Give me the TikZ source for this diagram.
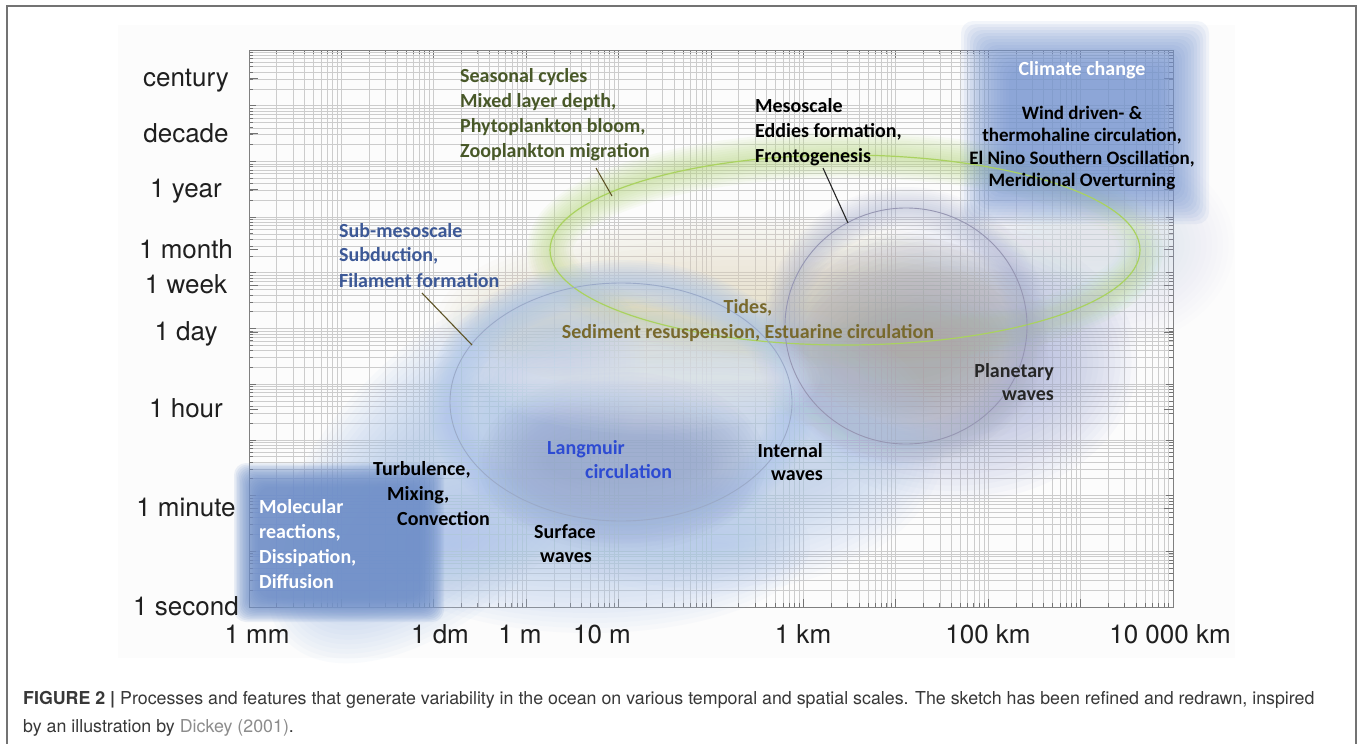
\documentclass[tikz,border=0pt]{standalone}
\usepackage{fontspec}
\setmainfont{TeX Gyre Heros}
\newfontfamily\labfont{Carlito}
\definecolor{molblue}{RGB}{112,144,202}
\definecolor{climblue}{RGB}{118,150,210}
\definecolor{lblue}{RGB}{176,199,234}
\definecolor{langm}{RGB}{148,164,202}
\definecolor{tanc}{RGB}{226,217,190}
\definecolor{mesotan}{RGB}{172,166,152}
\definecolor{planet}{RGB}{166,175,216}
\definecolor{greenglow}{RGB}{188,220,135}
\definecolor{greenline}{RGB}{170,210,95}
\definecolor{subline}{RGB}{155,170,200}
\definecolor{mesoline}{RGB}{150,150,178}
\definecolor{mesoglow}{RGB}{168,176,206}
\definecolor{seastext}{RGB}{72,88,40}
\definecolor{subtext}{RGB}{60,88,150}
\definecolor{tidetext}{RGB}{120,105,45}
\definecolor{langtext}{RGB}{45,75,210}
\definecolor{leadercol}{RGB}{95,85,40}
\tikzset{
  gridline/.style={draw=black!20, line width=0.7pt},
  tickline/.style={draw=black!55, line width=0.8pt},
  frameline/.style={draw=black!50, line width=1pt},
  axlab/.style={font=\fontsize{26}{30}\selectfont, text=black!88, inner sep=0pt, anchor=base},
  lab/.style={font=\labfont\bfseries\fontsize{20}{24}\selectfont, inner sep=0pt},
  clab/.style={font=\labfont\bfseries\fontsize{19}{23}\selectfont, inner sep=0pt, anchor=base},
  leaderline/.style={line width=1.1pt},
  outline/.style={line width=0.9pt},
  captext/.style={font=\fontsize{17.8}{21}\selectfont, text=black!78, inner sep=0pt, anchor=base west},
}
% soft (blurred) ellipse: cx, cy, rx, ry, colour, total opacity, blur
\newcommand\softell[7]{%
  \pgfmathsetmacro\lyr{1-(1-#6)^(1/17)}%
  \foreach \k in {-8,...,8}{%
    \fill[#5,opacity=\lyr] (#1,#2) ellipse [x radius={#3+(\k)*#7/8}, y radius={#4+(\k)*#7/8}];}}
% soft ring: cx, cy, rx, ry, colour, total opacity, width
\newcommand\softring[7]{%
  \pgfmathsetmacro\lyr{1-(1-#6)^(1/10)}%
  \foreach \w in {1,...,10}{%
    \draw[#5,opacity=\lyr,line width={\w*#7/10}] (#1,#2) ellipse [x radius=#3, y radius=#4];}}
% soft rectangle: x1, y1, x2, y2, colour, total opacity, blur
\newcommand\softrect[7]{%
  \pgfmathsetmacro\lyr{1-(1-#6)^(1/17)}%
  \foreach \k in {-8,...,8}{%
    \fill[#5,opacity=\lyr,rounded corners=12pt] ({#1-(\k)*#7/8},{#2-(\k)*#7/8}) rectangle ({#3+(\k)*#7/8},{#4+(\k)*#7/8});}}
\begin{document}
\begin{tikzpicture}[x=1pt,y=-1pt]
\useasboundingbox (0,0) rectangle (1360,744);
\fill[white] (0,0) rectangle (1360,744);
\fill[black!1] (118,25) rectangle (1235,658);
\draw[black!55, line width=1.5pt] (7,6) rectangle (1356,800);

% ---------- grid ----------
\foreach \d in {0,...,9}{\foreach \m in {1,...,9}{%
  \pgfmathsetmacro\gx{249+92.4*(\d+log10(\m))}
  \ifnum\m=1 \def\tl{8}\else\def\tl{4}\fi
  \draw[gridline] (\gx,50) -- (\gx,607);
  \draw[tickline] (\gx,607) -- (\gx,{607-\tl});
  \draw[tickline] (\gx,50) -- (\gx,{50+\tl});
}}
\foreach \n in {0,...,9}{\foreach \m in {1,...,9}{%
  \pgfmathsetmacro\gy{607-55.7*(\n+log10(\m))}
  \ifnum\m=1 \def\tl{7}\else\def\tl{4}\fi
  \draw[gridline] (249,\gy) -- (1173,\gy);
  \draw[tickline] (249,\gy) -- ({249+\tl},\gy);
  \draw[tickline] (1173,\gy) -- ({1173-\tl},\gy);
}}
\foreach \ty in {77.9,133.6,189.3,249.4,285.0,332.0,408.9,508.0}{%
  \draw[tickline] (249,\ty) -- (258,\ty);
  \draw[tickline] (1173,\ty) -- (1164,\ty);}
\draw[frameline] (249,50) rectangle (1173,607);

% ---------- soft regions ----------
\softring{845}{250}{295}{95}{greenglow}{0.55}{46}
\softell{745}{322}{265}{62}{tanc}{0.65}{44}
\softell{1100}{245}{90}{60}{lblue}{0.35}{44}
\softell{955}{362}{138}{96}{planet}{0.62}{44}
\softell{900}{352}{104}{72}{mesotan}{0.5}{44}
\softring{906}{326}{121}{118}{mesoglow}{0.45}{42}
\softell{705}{445}{195}{105}{lblue}{0.6}{44}
\softring{621}{402}{171}{119}{lblue}{0.65}{46}
\begin{scope}[shift={(455,470)}, rotate=46]
  \softell{0}{0}{200}{85}{lblue}{0.7}{40}
\end{scope}
\softell{590}{545}{180}{48}{lblue}{0.65}{40}
\softell{622}{462}{110}{56}{langm}{0.7}{34}
\softell{650}{378}{140}{26}{white}{0.5}{30}
\softell{1075}{225}{70}{28}{white}{0.45}{30}
\softrect{246}{475}{432}{610}{molblue}{0.9}{12}
\softrect{985}{45}{1185}{200}{climblue}{0.8}{24}

% ---------- outlines ----------
\draw[outline, greenline, line width=1.2pt] (845,250) ellipse [x radius=295, y radius=95];
\draw[outline, mesoline] (906,326) ellipse [x radius=121, y radius=118];
\draw[outline, subline] (621,402) ellipse [x radius=171, y radius=119];

% ---------- leader lines ----------
\coordinate (seasA) at (596,168); \coordinate (seasB) at (612,196);
\coordinate (mesoA) at (823,168); \coordinate (mesoB) at (848,223);
\coordinate (subA) at (422,293);  \coordinate (subB) at (472,345);
\draw[leaderline, leadercol] (seasA) -- (seasB);
\draw[leaderline, black!85] (mesoA) -- (mesoB);
\draw[leaderline, leadercol] (subA) -- (subB);

% ---------- axis labels ----------
\node[axlab] (tcent) at (186,86) {century};
\node[axlab] (tdec) at (186,142) {decade};
\node[axlab] (tyear) at (186,197) {1 year};
\node[axlab] (tmonth) at (186,258) {1 month};
\node[axlab] (tweek) at (186,293) {1 week};
\node[axlab] (tday) at (186,340) {1 day};
\node[axlab] (thour) at (186,417) {1 hour};
\node[axlab] (tmin) at (186,516) {1 minute};
\node[axlab] (tsec) at (186,615) {1 second};
\node[axlab] (xmm) at (257,643) {1 mm};
\node[axlab] (xdm) at (440,643) {1 dm};
\node[axlab] (xm) at (520,643) {1 m};
\node[axlab] (xtm) at (602,643) {10 m};
\node[axlab] (xkm) at (803,643) {1 km};
\node[axlab] (xhkm) at (988,643) {100 km};
\node[axlab] (xtkm) at (1170,643) {10 000 km};

% ---------- process labels ----------
\node[lab, anchor=base west, text=seastext] (seas1) at (460,82) {Seasonal cycles};
\node[lab, anchor=base west, text=seastext] (seas2) at (460,107) {Mixed layer depth,};
\node[lab, anchor=base west, text=seastext] (seas3) at (460,132) {Phytoplankton bloom,};
\node[lab, anchor=base west, text=seastext] (seas4) at (460,157) {Zooplankton migration};

\node[lab, anchor=base west, text=black] (meso1) at (755,112) {Mesoscale};
\node[lab, anchor=base west, text=black] (meso2) at (755,137) {Eddies formation,};
\node[lab, anchor=base west, text=black] (meso3) at (755,162) {Frontogenesis};

\node[lab, anchor=base, text=white] (clim0) at (1082,75) {Climate change};
\node[clab, text=black] (clim1) at (1082,119) {Wind driven- \&};
\node[clab, text=black] (clim2) at (1082,141) {thermohaline circulation,};
\node[clab, text=black] (clim3) at (1082,164) {El Nino Southern Oscillation,};
\node[clab, text=black] (clim4) at (1082,186) {Meridional Overturning};

\node[lab, anchor=base west, text=subtext] (sub1) at (339,237) {Sub-mesoscale};
\node[lab, anchor=base west, text=subtext] (sub2) at (339,261) {Subduction,};
\node[lab, anchor=base west, text=subtext] (sub3) at (339,287) {Filament formation};

\node[lab, anchor=base, text=tidetext] (tide1) at (748,313) {Tides,};
\node[lab, anchor=base, text=tidetext] (tide2) at (748,338) {Sediment resuspension, Estuarine circulation};

\node[lab, anchor=base west, text=black] (turb1) at (373,475) {Turbulence,};
\node[lab, anchor=base west, text=black] (turb2) at (387,500) {Mixing,};
\node[lab, anchor=base west, text=black] (turb3) at (397,525) {Convection};

\node[lab, anchor=base west, text=langtext] (lang1) at (547,454) {Langmuir};
\node[lab, anchor=base west, text=langtext] (lang2) at (585,478) {circulation};

\node[lab, anchor=base east, text=black] (int1) at (823,457) {Internal};
\node[lab, anchor=base east, text=black] (int2) at (823,480) {waves};

\node[lab, anchor=base, text=black] (surf1) at (565,538) {Surface};
\node[lab, anchor=base, text=black] (surf2) at (566,562) {waves};

\node[lab, anchor=base east, text=black!85] (plan1) at (1054,377) {Planetary};
\node[lab, anchor=base east, text=black!85] (plan2) at (1054,400) {waves};

\node[lab, anchor=base west, text=white] (mol1) at (259,513) {Molecular};
\node[lab, anchor=base west, text=white] (mol2) at (259,538) {reactions,};
\node[lab, anchor=base west, text=white] (mol3) at (259,563) {Dissipation,};
\node[lab, anchor=base west, text=white] (mol4) at (259,588) {Diffusion};

% ---------- caption ----------
\node[captext] (cap1) at (23,704) {\textbf{FIGURE 2 |} Processes and features that generate variability in the ocean on various temporal and spatial scales. The sketch has been refined and redrawn, inspired};
\node[captext] (cap2) at (23,732) {by an illustration by \textcolor{black!45}{Dickey (2001)}.};
\end{tikzpicture}
\end{document}
